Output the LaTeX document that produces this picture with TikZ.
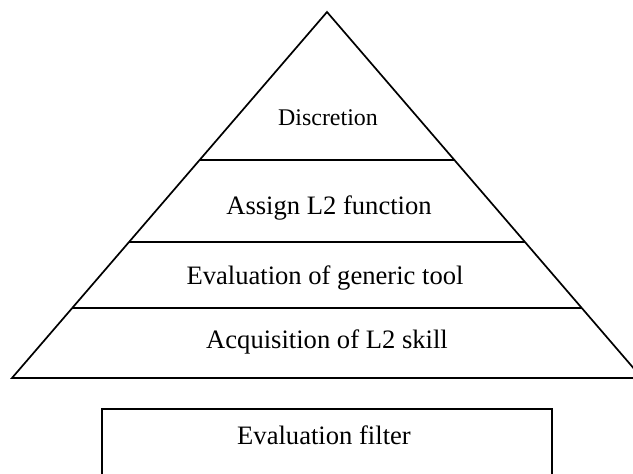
\documentclass[tikz,border=0pt]{standalone}
\usepackage{fontspec}
\setmainfont{Liberation Serif}
\usetikzlibrary{calc}

\begin{document}
\begin{tikzpicture}[x=1bp, y=-1bp, line width=1.7bp,
		layer/.style={font=\fontsize{26.7}{30}\selectfont, inner sep=0pt}]
		\useasboundingbox (0,0) rectangle (633,474);
		\clip (0,0) rectangle (633,474);
		\coordinate (top) at (327,12);
		\coordinate (bl) at (12,378);
		\coordinate (br) at (642,378);
		\draw (bl) -- (top) -- (br) -- cycle;
		\draw ($(bl)!0.1913!(top)$) -- ($(br)!0.1913!(top)$);
		\draw ($(bl)!0.3716!(top)$) -- ($(br)!0.3716!(top)$);
		\draw ($(bl)!0.5956!(top)$) -- ($(br)!0.5956!(top)$);
		\node[layer, font=\fontsize{24}{28}\selectfont] (discretion) at (328,118) {Discretion};
		\node[layer] (assign) at (329,208) {Assign L2 function};
		\node[layer] (generic) at (325,278) {Evaluation of generic tool};
		\node[layer] (skill) at (327,342) {Acquisition of L2 skill};
		\draw (102,409) rectangle (552,490);
		\node[layer] (filter) at (324,435) {Evaluation filter};
	\end{tikzpicture}
\end{document}
